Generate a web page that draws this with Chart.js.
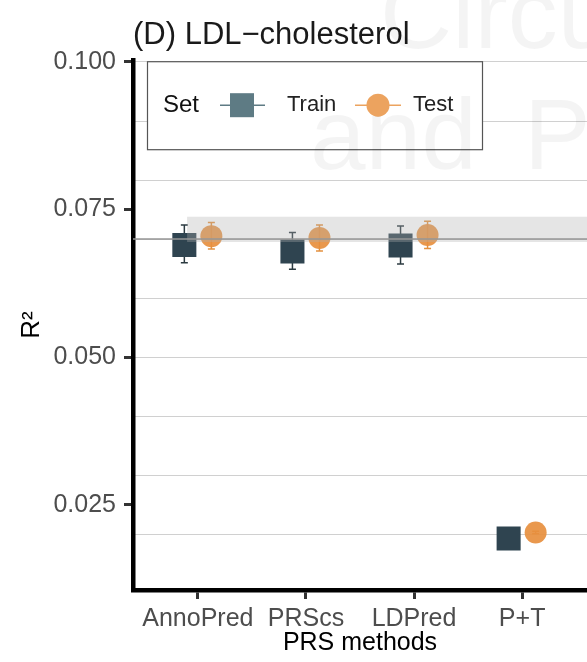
<!DOCTYPE html>
<html>
<head>
<meta charset="utf-8">
<script src="https://cdn.jsdelivr.net/npm/chart.js@4"></script>
<style>
  body { margin: 0; background: #fff; overflow: hidden; }
</style>
</head>
<body>
<canvas id="myChart" width="587" height="662"></canvas>
<script>
// values
const methods = ["AnnoPred", "PRScs", "LDPred", "P+T"];
const trainR2 = [0.0690, 0.0679, 0.0689, 0.0193];
const trainLow = [0.0660, 0.0649, 0.0658, 0.0191];
const trainHigh = [0.0724, 0.0711, 0.0722, 0.0195];
const testR2 = [0.0705, 0.0702, 0.0707, 0.0203];
const testLow = [0.0683, 0.0680, 0.0684, 0.0201];
const testHigh = [0.0728, 0.0724, 0.0730, 0.0205];
const yTickLabels = [0.025, 0.05, 0.075, 0.1];
const refLine = 0.0700;
const refBand = [0.0695, 0.0738];

const dodge = 0.125;
const FONT = "'Liberation Sans', Arial, sans-serif";
const trainColor = "#2f4450";
const testColor = "rgba(231, 143, 62, 0.92)";

function points(vals, shift) {
  return vals.map((v, i) => ({ x: i + shift, y: v }));
}
function errorBars(lo, hi, shift) {
  const out = [];
  lo.forEach((v, i) => {
    out.push({ x: i + shift, y: v }, { x: i + shift, y: hi[i] }, { x: i + shift, y: null });
  });
  return out;
}

const bgPlugin = {
  id: "bg",
  beforeDraw(chart) {
    const c = chart.ctx;
    c.save();
    c.fillStyle = "#fff";
    c.fillRect(0, 0, chart.width, chart.height);
    c.restore();
  },
};

// legend drawn inside the panel, like the original
const legendBox = {
  id: "legendBox",
  afterDatasetsDraw(chart) {
    const c = chart.ctx;
    const { left, top } = chart.chartArea;
    const x = left + 14, y = top + 1, w = 335, h = 88;
    const cy = y + h / 2;
    c.save();
    c.fillStyle = "#fff";
    c.fillRect(x, y, w, h);
    c.strokeStyle = "#555";
    c.lineWidth = 1.2;
    c.strokeRect(x + 0.5, y + 0.5, w, h);
    c.textBaseline = "middle";
    c.fillStyle = "#111";
    c.font = "24px " + FONT;
    c.fillText("Set", x + 16, cy);
    // train key
    c.strokeStyle = "#5e7b84";
    c.lineWidth = 1.5;
    c.beginPath(); c.moveTo(x + 73, cy); c.lineTo(x + 118, cy); c.stroke();
    c.fillStyle = "#5e7b84";
    c.fillRect(x + 83, cy - 12, 24, 24);
    c.fillStyle = "#222";
    c.font = "22px " + FONT;
    c.fillText("Train", x + 140, cy);
    // test key
    c.strokeStyle = "#eca35f";
    c.beginPath(); c.moveTo(x + 208, cy); c.lineTo(x + 254, cy); c.stroke();
    c.fillStyle = "#eca35f";
    c.beginPath(); c.arc(x + 231, cy, 11.5, 0, Math.PI * 2); c.fill();
    c.fillStyle = "#222";
    c.fillText("Test", x + 266, cy);
    c.restore();
  },
};

// faint journal watermark seen in the source figure
const watermark = {
  id: "watermark",
  afterDraw(chart) {
    const c = chart.ctx;
    c.save();
    c.fillStyle = "rgba(0,0,0,0.045)";
    c.font = "100px " + FONT;
    c.textBaseline = "alphabetic";
    c.fillText("Circu", 380, 48);
    c.fillText("and", 310, 169);
    c.fillText("P", 524, 169);
    c.restore();
  },
};

const ctx = document.getElementById("myChart");
const myChart = new Chart(ctx, {
  type: "scatter",
  data: {
    datasets: [
      {
        label: "band",
        data: [{ x: -0.1, y: refBand[1] }, { x: 3.6, y: refBand[1] }],
        showLine: true,
        borderWidth: 0,
        pointRadius: 0,
        fill: { value: refBand[0] },
        backgroundColor: "rgba(175,175,175,0.33)",
        order: 1,
      },
      {
        label: "ref",
        data: [{ x: -0.6, y: refLine }, { x: 3.6, y: refLine }],
        showLine: true,
        borderColor: "rgba(150,150,150,0.75)",
        borderWidth: 2,
        pointRadius: 0,
        order: 0,
      },
      {
        label: "Train",
        data: points(trainR2, -dodge),
        pointStyle: "rect",
        pointRadius: 17,
        backgroundColor: trainColor,
        borderWidth: 0,
        order: 2,
      },
      {
        label: "Test",
        data: points(testR2, dodge),
        pointStyle: "circle",
        pointRadius: 11,
        backgroundColor: testColor,
        borderWidth: 0,
        order: 3,
      },
      {
        label: "trainErr",
        data: errorBars(trainLow, trainHigh, -dodge),
        showLine: true,
        spanGaps: false,
        borderColor: "#2b3a40",
        borderWidth: 1.5,
        pointStyle: "line",
        pointRadius: 3.5,
        pointBorderWidth: 1.5,
        pointBorderColor: "#2b3a40",
        order: 4,
      },
      {
        label: "testErr",
        data: errorBars(testLow, testHigh, dodge),
        showLine: true,
        spanGaps: false,
        borderColor: "#e3913f",
        borderWidth: 1.5,
        pointStyle: "line",
        pointRadius: 3.5,
        pointBorderWidth: 1.5,
        pointBorderColor: "#e3913f",
        order: 5,
      },
    ],
  },
  options: {
    responsive: false,
    devicePixelRatio: 1,
    animation: false,
    layout: { padding: 0, autoPadding: false },
    plugins: {
      legend: { display: false },
      tooltip: { enabled: false },
      title: {
        display: true,
        text: "(D) LDL\u2212cholesterol",
        align: "start",
        fullSize: false,
        color: "#1a1a1a",
        font: { family: FONT, size: 31, weight: "normal" },
        padding: { top: 17, bottom: 6 },
      },
    },
    scales: {
      x: {
        type: "linear",
        min: -0.6,
        max: 3.6,
        afterBuildTicks: (s) => { s.ticks = methods.map((m, i) => ({ value: i })); },
        afterFit: (s) => { s.height = 72; },
        ticks: {
          callback: (v) => methods[v],
          autoSkip: false,
          maxRotation: 0,
          color: "#4d4d4d",
          padding: 5,
          font: { family: FONT, size: 25 },
        },
        grid: { drawOnChartArea: false, tickLength: 9, tickWidth: 3, tickColor: "#333" },
        border: { color: "#000", width: 4.5 },
        title: {
          display: true,
          text: "PRS methods",
          color: "#000",
          font: { family: FONT, size: 25 },
          padding: { top: 0, bottom: 4 },
        },
      },
      y: {
        type: "linear",
        position: "left",
        min: 0.01056,
        max: 0.1003,
        afterBuildTicks: (s) => { s.ticks = yTickLabels.map((v) => ({ value: v })); },
        afterFit: (s) => { s.width = 133; },
        ticks: {
          callback: (v) => v.toFixed(3),
          color: "#4d4d4d",
          padding: 8,
          font: { family: FONT, size: 25 },
        },
        grid: { drawOnChartArea: false, tickLength: 9, tickWidth: 3, tickColor: "#333" },
        border: { color: "#000", width: 4.5 },
        title: {
          display: true,
          text: "R\u00b2",
          color: "#000",
          font: { family: FONT, size: 26 },
          padding: { top: 16, bottom: 0 },
        },
      },
      // grid only, every 0.01
      yGrid: {
        type: "linear",
        position: "right",
        min: 0.01056,
        max: 0.1003,
        afterBuildTicks: (s) => {
          const t = [];
          for (let k = 2; k <= 10; k++) t.push({ value: k / 100 });
          s.ticks = t;
        },
        afterFit: (s) => { s.width = 0; },
        ticks: { display: false },
        grid: { color: "#d0d0d0", lineWidth: 1, drawTicks: false },
        border: { display: false },
      },
    },
  },
  plugins: [bgPlugin, legendBox, watermark],
});
</script>
</body>
</html>
